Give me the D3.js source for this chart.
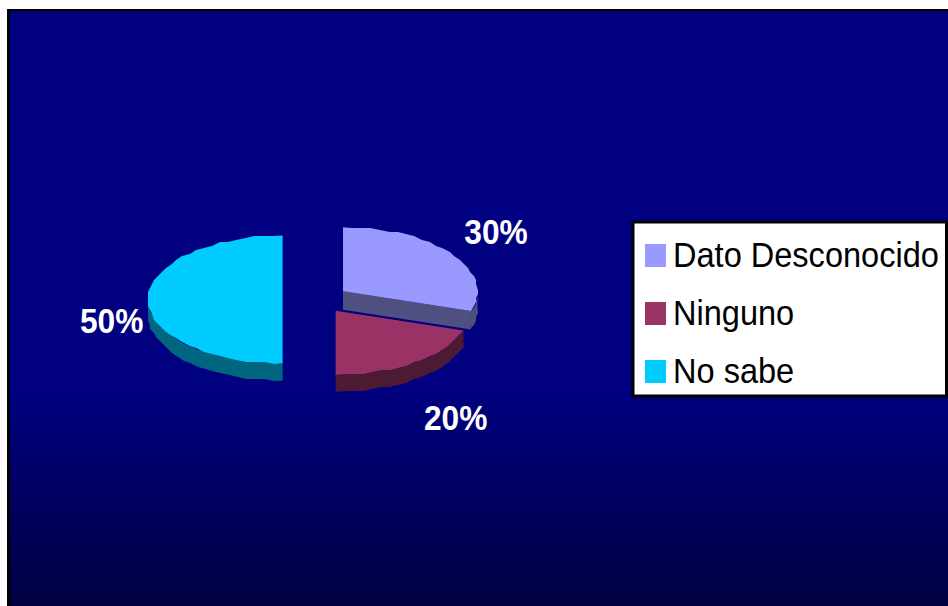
<!DOCTYPE html>
<html lang="es">
<head>
    <meta charset="UTF-8">
    <title>Pie chart</title>
    <script src="https://cdn.jsdelivr.net/npm/d3@7"></script>
    <style>
        html, body { margin: 0; padding: 0; background: #fff; overflow: hidden; }
        svg { display: block; }
        text { font-family: "Liberation Sans", Arial, sans-serif; }
    </style>
</head>
<body>
<script>
    // data
    var categories = ["Dato Desconocido", "Ninguno", "No sabe"];
    var values = [30, 20, 50];
    var topColors = ["#9999ff", "#993366", "#00ccff"];
    var sideColors = ["#4f4f80", "#4d1a33", "#006680"];

    // label offset from each slice's own apex
    var labelDx = [153, 120, -171];
    var labelDy = [-59, 108, 22];

    var width = 948, height = 606;
    var cx = 316, cy = 299.5;
    var rx = 134.5, ry = 64, depth = 17;
    var explodeX = 33.4, explodeY = 14;

    var svg = d3.select("body").append("svg")
        .attr("width", width)
        .attr("height", height);

    // background
    var grad = svg.append("defs").append("linearGradient")
        .attr("id", "bg")
        .attr("x1", 0).attr("y1", 0).attr("x2", 0).attr("y2", 1);
    grad.append("stop").attr("offset", "0.64").attr("stop-color", "#000080");
    grad.append("stop").attr("offset", "1").attr("stop-color", "#000040");

    svg.append("rect")
        .attr("x", 7).attr("y", 9)
        .attr("width", width - 7).attr("height", height - 9)
        .attr("fill", "#000");
    svg.append("rect")
        .attr("x", 10).attr("y", 11)
        .attr("width", width - 10).attr("height", height - 11)
        .attr("fill", "url(#bg)");

    // pie layout, clockwise from 12 o'clock
    var slices = d3.pie().sort(null)(values);
    var total = d3.sum(values);
    var sx = d3.scaleLinear().domain([-1, 1]).range([-rx, rx]);
    var sy = d3.scaleLinear().domain([-1, 1]).range([-ry, ry]);
    var line = d3.line();

    // slightly rough outline like the original raster
    function rim(a0, a1, ox, oy) {
        var step = 0.07;
        var n = Math.max(1, Math.ceil((a1 - a0) / step));
        return d3.range(n + 1).map(function (i) {
            var a = a0 + (a1 - a0) * i / n;
            var x = ox + sx(Math.sin(a));
            var y = oy + sy(-Math.cos(a));
            if (i > 0 && i < n) {
                x = Math.round(x / 2) * 2;
                y = Math.round(y / 2) * 2;
            }
            return [x, y];
        });
    }

    function shift(pts, dy) {
        return pts.map(function (p) { return [p[0], p[1] + dy]; });
    }

    slices.forEach(function (d, i) {
        var mid = (d.startAngle + d.endAngle) / 2;
        var ox = cx + explodeX * Math.sin(mid);
        var oy = cy - explodeY * Math.cos(mid);
        var g = svg.append("g");
        var a0 = Math.max(d.startAngle, Math.PI / 2);
        var a1 = Math.min(d.endAngle, Math.PI * 3 / 2);

        // outer wall
        if (a1 > a0) {
            var top = rim(a0, a1, ox, oy);
            g.append("path")
                .attr("d", line(top.concat(shift(top, depth).reverse())) + "Z")
                .attr("fill", sideColors[i]);
        }
        // cut face, only seen when the end edge turns to the viewer
        if (d.endAngle > Math.PI / 2 && d.endAngle < Math.PI) {
            var e = rim(d.endAngle, d.endAngle, ox, oy)[0];
            var faceDepth = depth + 1.5;
            var face = [[ox, oy], e, [e[0], e[1] + faceDepth], [ox, oy + faceDepth]];
            g.append("path")
                .attr("d", line(face) + "Z")
                .attr("fill", sideColors[i]);
        }
        // top
        var outline = [[ox, oy]].concat(rim(d.startAngle, d.endAngle, ox, oy));
        g.append("path")
            .attr("d", line(outline) + "Z")
            .attr("fill", topColors[i]);
        // percent label, the original type is narrower than Liberation
        g.append("text")
            .attr("transform", "translate(" + (ox + labelDx[i]) + "," + (oy + labelDy[i] + 11.5) + ") scale(0.88,1)")
            .attr("text-anchor", "middle")
            .attr("font-size", 36)
            .attr("font-weight", "bold")
            .attr("fill", "#fff")
            .text(Math.round(d.value / total * 100) + "%");
    });

    // legend
    var legend = svg.append("g");
    legend.append("rect")
        .attr("x", 633).attr("y", 222)
        .attr("width", 313.5).attr("height", 174)
        .attr("fill", "#fff")
        .attr("stroke", "#000")
        .attr("stroke-width", 3);
    var rowY = d3.scalePoint().domain(categories).range([255.5, 371.5]);
    categories.forEach(function (c, i) {
        legend.append("rect")
            .attr("x", 645).attr("y", rowY(c) - 11.5)
            .attr("width", 21).attr("height", 23)
            .attr("fill", topColors[i]);
        legend.append("text")
            .attr("transform", "translate(673," + (rowY(c) + 11) + ") scale(0.93,1)")
            .attr("font-size", 35)
            .attr("fill", "#000")
            .text(c);
    });
</script>
</body>
</html>
